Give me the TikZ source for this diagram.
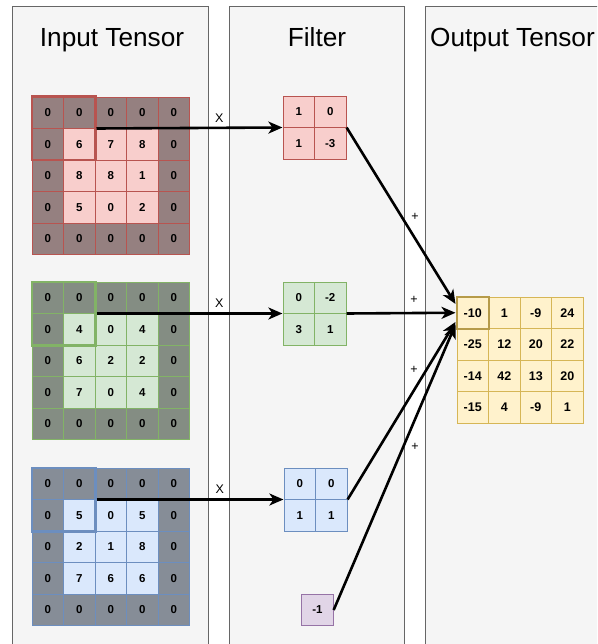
\documentclass[tikz,border=0pt]{standalone}
\usepackage{fontspec}
\setmainfont{Liberation Sans}
\usetikzlibrary{arrows.meta,fit}

\definecolor{redfill}{HTML}{F8CECC}
\definecolor{redline}{HTML}{B85450}
\definecolor{greenfill}{HTML}{D5E8D4}
\definecolor{greenline}{HTML}{82B366}
\definecolor{bluefill}{HTML}{DAE8FC}
\definecolor{blueline}{HTML}{6C8EBF}
\definecolor{purplefill}{HTML}{E1D5E7}
\definecolor{purpleline}{HTML}{9673A6}
\definecolor{yellowfill}{HTML}{FFF2CC}
\definecolor{yellowline}{HTML}{D6B656}
\definecolor{panelfill}{HTML}{F5F5F5}
\definecolor{panelline}{HTML}{666666}
\definecolor{padgray}{HTML}{333333}

% name, colour, left x, top y, rows, padded (0/1)
\newcommand{\cellgrid}[6]{%
  \foreach \row [count=\i from 0] in {#5}
    \foreach \v [count=\j from 0] in \row {
      \pgfmathtruncatemacro\pad{#6*((\i==0)||(\i==4)||(\j==0)||(\j==4))}
      \ifnum\pad=1 \def\cf{#2fill!50!padgray}\else\def\cf{#2fill}\fi
      \node[cell=#2, fill=\cf] (#1-\i-\j) at ({#3+15.75+31.5*\j},{#4+15.75+31.5*\i}) {\v};
    }%
}

\begin{document}
\begin{tikzpicture}[x=1pt,y=-1pt,
  cellfont/.style={font=\fontsize{11.5}{13}\selectfont\bfseries},
  cell/.style={draw=#1line, fill=#1fill, minimum size=31.5pt, inner sep=0pt, line width=0.8pt, cellfont},
  window/.style={draw=#1line, line width=2.2pt, inner sep=0pt},
  panel/.style={draw=panelline, fill=panelfill, line width=0.8pt},
  title/.style={anchor=base, font=\fontsize{26.2}{30}\selectfont},
  conn/.style={line width=2.6pt, -{Stealth[length=14pt,width=12pt,inset=4pt]}},
  op/.style={font=\fontsize{12.5}{14}\selectfont}]
\fill[white] (0,0) rectangle (597,644);
\clip (0,0) rectangle (597,644);

\draw[panel] (12,6) rectangle (208,660);
\draw[panel] (229,6) rectangle (404,660);
\draw[panel] (425,6) rectangle (610,660);
\node[title] (tin) at (112,47) {Input Tensor};
\node[title] (tflt) at (317,47) {Filter};
\node[title] (tout) at (512.5,47) {Output Tensor};

\cellgrid{r}{red}{32}{97}{{0,0,0,0,0},{0,6,7,8,0},{0,8,8,1,0},{0,5,0,2,0},{0,0,0,0,0}}{1}
\cellgrid{g}{green}{32}{282}{{0,0,0,0,0},{0,4,0,4,0},{0,6,2,2,0},{0,7,0,4,0},{0,0,0,0,0}}{1}
\cellgrid{b}{blue}{32}{468}{{0,0,0,0,0},{0,5,0,5,0},{0,2,1,8,0},{0,7,6,6,0},{0,0,0,0,0}}{1}
\node[window=red, fit=(r-0-0)(r-1-1)] (rwin) {};
\node[window=green, fit=(g-0-0)(g-1-1)] (gwin) {};
\node[window=blue, fit=(b-0-0)(b-1-1)] (bwin) {};

\cellgrid{rf}{red}{283}{96}{{1,0},{1,-3}}{0}
\cellgrid{gf}{green}{283}{282}{{0,-2},{3,1}}{0}
\cellgrid{bf}{blue}{284}{468}{{0,0},{1,1}}{0}
\node[fit=(rf-0-0)(rf-1-1), inner sep=0pt] (rflt) {};
\node[fit=(gf-0-0)(gf-1-1), inner sep=0pt] (gflt) {};
\node[fit=(bf-0-0)(bf-1-1), inner sep=0pt] (bflt) {};
\node[cell=purple] (bias) at (317.5,610) {-1};

\begin{scope}[cellfont/.style={font=\fontsize{12.5}{14}\selectfont\bfseries}]
\cellgrid{o}{yellow}{457}{297}{{-10,1,-9,24},{-25,12,20,22},{-14,42,13,20},{-15,4,-9,1}}{0}
\end{scope}
\node[window=yellow, draw=yellowline!85!black, fit=(o-0-0)] (owin) {};

\draw[conn] (rwin.east) -- node[op, pos=0.66, above=1pt]{X} (rflt.west);
\draw[conn] (gwin.east) -- node[op, pos=0.66, above=1pt]{X} (gflt.west);
\draw[conn] (bwin.east) -- node[op, pos=0.66, above=1pt]{X} (bflt.west);

\draw[conn] (rflt.east) -- (owin.153);
\draw[conn] (gflt.east) -- (owin.west);
\draw[conn] (bflt.east) -- (owin.208);
\draw[conn] (bias.east) -- (owin.214);
\node[op] (plus1) at (415,217) {+};
\node[op] (plus2) at (414,300) {+};
\node[op] (plus3) at (414,370) {+};
\node[op] (plus4) at (415,447) {+};
\end{tikzpicture}
\end{document}
